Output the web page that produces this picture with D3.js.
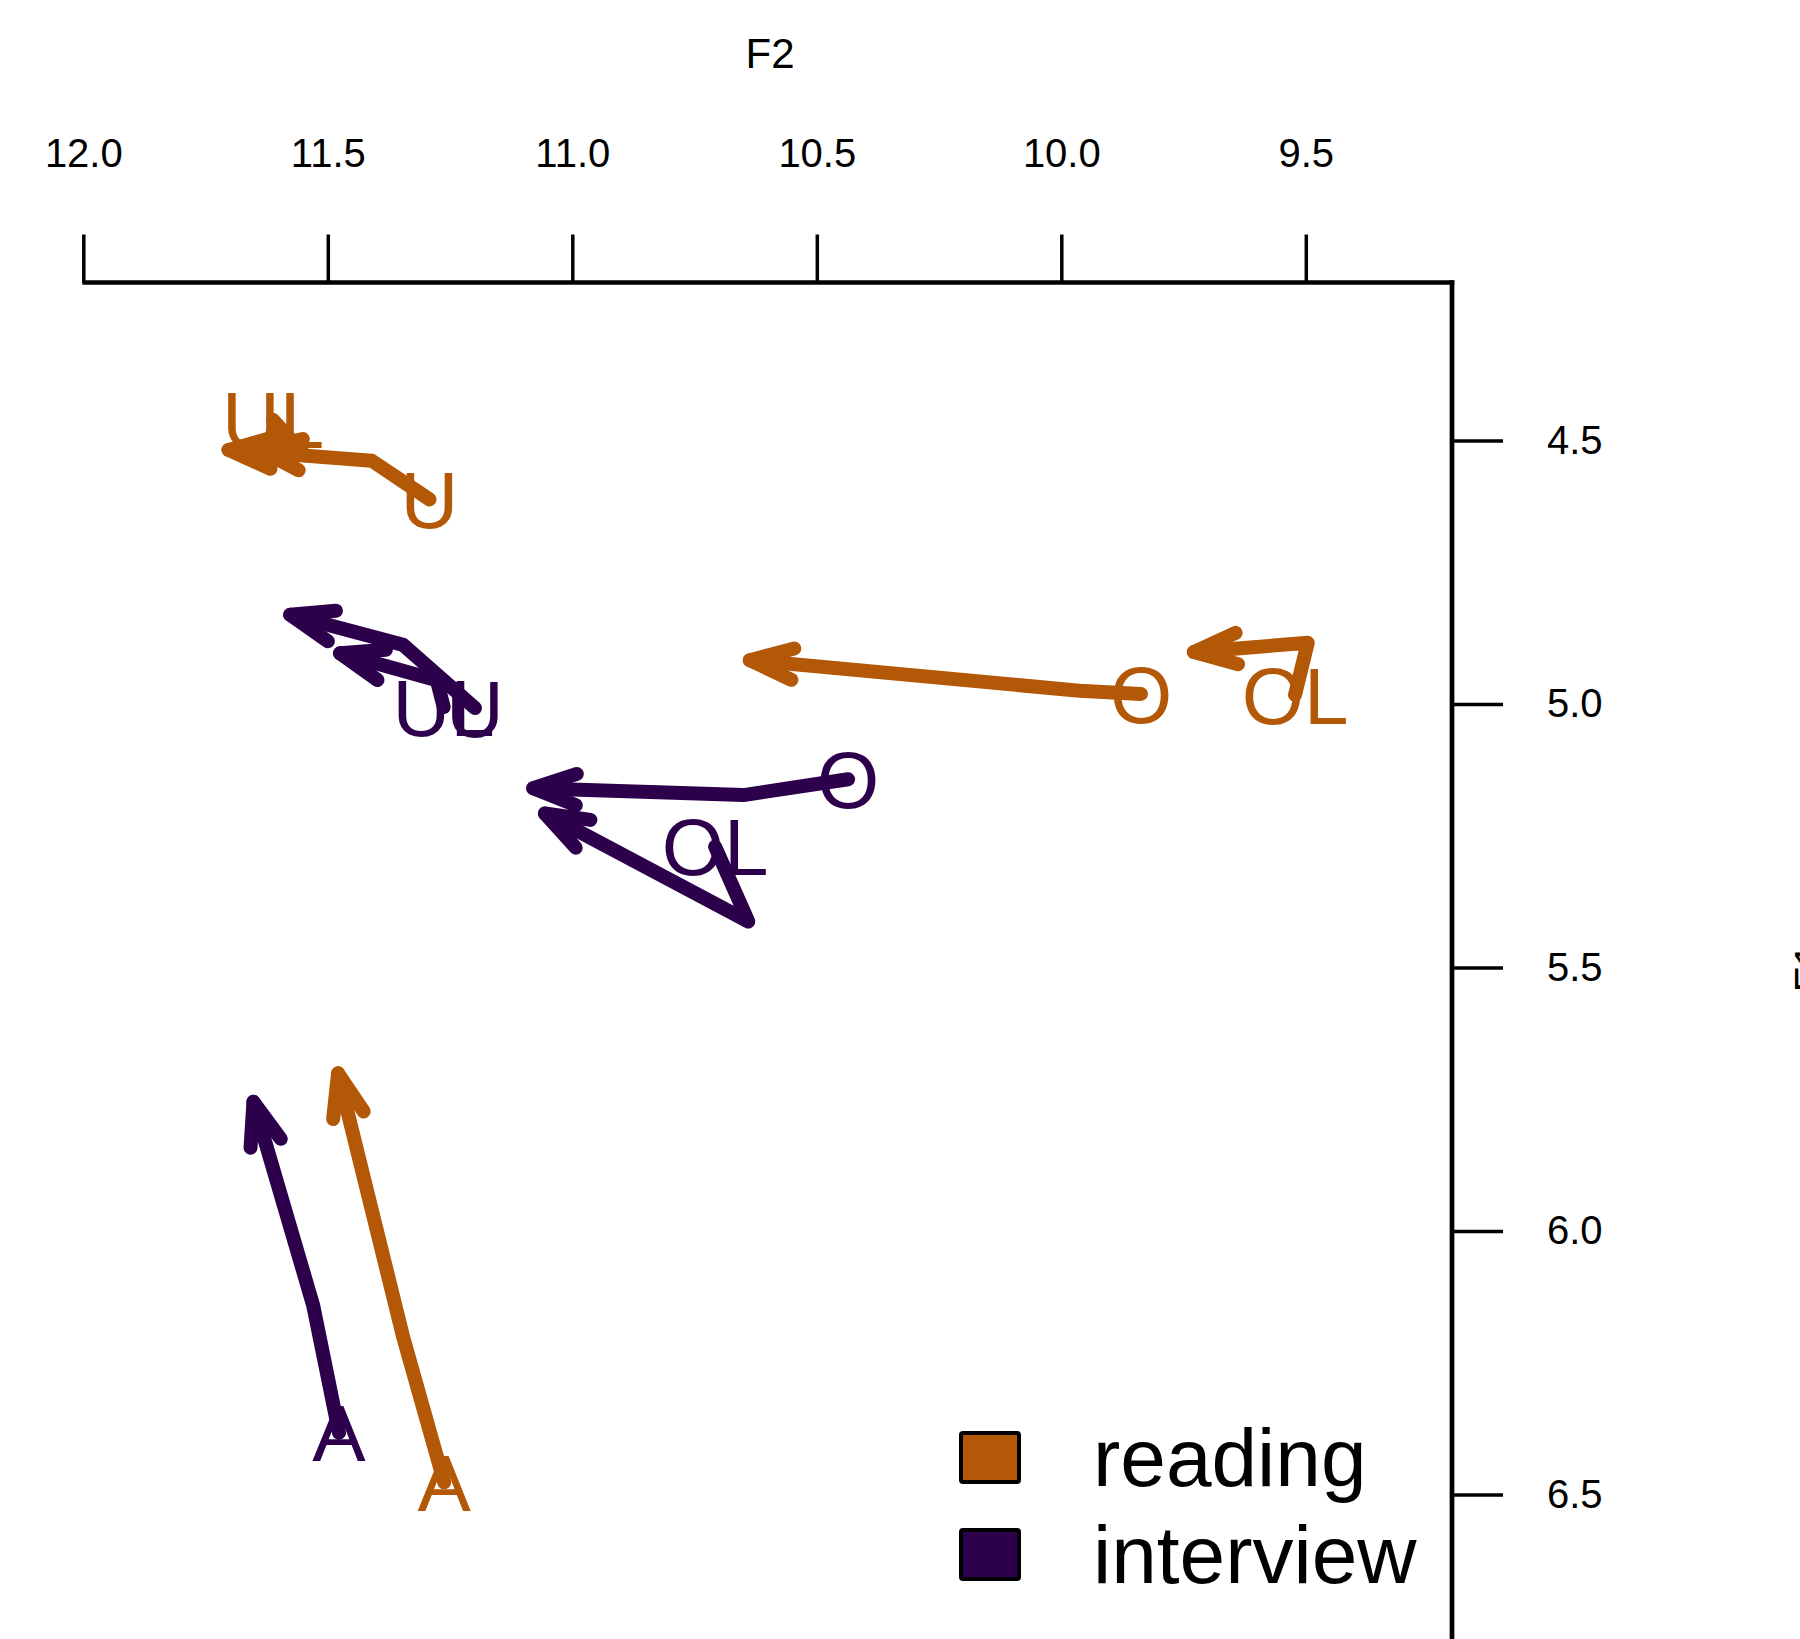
<!DOCTYPE html>
<html><head><meta charset="utf-8">
<script src="https://cdn.jsdelivr.net/npm/d3@7"></script>
<style>
body{margin:0;background:#fff}
svg{display:block}
text{font-family:"Liberation Sans",Arial,Helvetica,sans-serif}
</style>
</head><body>
<svg id="c" width="1800" height="1639"></svg>
<script>
// ---- data ----
const vowels = ["U","UL","O","OL","A"];
const styles = ["reading","interview"];
const styleColors = ["#B35806","#2D004B"];
// trajectory points (start, mid, end) per vowel
const readingF2 = [[11.292,11.410,11.703],[11.612,11.547,11.643],[9.837,9.963,10.637],[9.522,9.496,9.729],[11.262,11.346,11.479]];
const readingF1 = [[4.612,4.5385,4.518],[4.461,4.528,4.516],[4.981,4.975,4.917],[4.983,4.884,4.9015],[6.477,6.201,5.701]];
const interviewF2 = [[11.199,11.346,11.577],[11.263,11.277,11.475],[10.436,10.650,11.080],[10.708,10.640,11.056],[11.477,11.530,11.652]];
const interviewF1 = [[5.008,4.888,4.831],[5.006,4.955,4.904],[5.143,5.173,5.160],[5.271,5.413,5.208],[6.383,6.141,5.755]];
const f2Ticks = [12.0,11.5,11.0,10.5,10.0,9.5];
const f1Ticks = [4.5,5.0,5.5,6.0,6.5];

// ---- scales ----
const x = d3.scaleLinear().domain([12, 9.5]).range([83.3, 1305.8]);
const y = d3.scaleLinear().domain([4.5, 6.5]).range([440.4, 1494.4]);
const axisX = 1452, axisY = 282.5;

const svg = d3.select("#c");

// ---- axes ----
const gTop = svg.append("g").attr("transform", `translate(0,${axisY})`)
  .call(d3.axisTop(x).tickValues(f2Ticks).tickFormat(d3.format(".1f")).tickSize(48).tickPadding(68));
gTop.select(".domain").remove();
gTop.selectAll(".tick line").attr("stroke","#000").attr("stroke-width",3.5);
gTop.selectAll(".tick text").attr("font-size",40).attr("fill","#000")
  .attr("font-family",'"Liberation Sans",Arial,sans-serif');

const gRight = svg.append("g").attr("transform", `translate(${axisX},0)`)
  .call(d3.axisRight(y).tickValues(f1Ticks).tickFormat(d3.format(".1f")).tickSize(51).tickPadding(44));
gRight.select(".domain").remove();
gRight.selectAll(".tick line").attr("stroke","#000").attr("stroke-width",3.5);
gRight.selectAll(".tick text").attr("font-size",40).attr("fill","#000")
  .attr("font-family",'"Liberation Sans",Arial,sans-serif');

svg.append("line").attr("x1", x(12)-1).attr("x2", axisX+2.3).attr("y1", axisY).attr("y2", axisY)
  .attr("stroke","#000").attr("stroke-width",4.7);
svg.append("line").attr("x1", axisX).attr("x2", axisX).attr("y1", axisY-2.3).attr("y2", 1645)
  .attr("stroke","#000").attr("stroke-width",4.7);

svg.append("text").attr("x",770).attr("y",68.3).attr("text-anchor","middle")
  .attr("font-size",42).text("F2");
svg.append("text").attr("transform","translate(1824,968) rotate(-90)").attr("text-anchor","middle")
  .attr("font-size",42).text("F1");

// ---- trajectories ----
function head(p1, p2){
  const ang = Math.atan2(p1[1]-p2[1], p1[0]-p2[0]);
  const a = 20*Math.PI/180, L = 46;
  return [[p2[0]+L*Math.cos(ang+a), p2[1]+L*Math.sin(ang+a)], p2,
          [p2[0]+L*Math.cos(ang-a), p2[1]+L*Math.sin(ang-a)]];
}
const line = d3.line();
const series = [[readingF2, readingF1],[interviewF2, interviewF1]];
series.forEach(([F2s, F1s], si) => {
  const col = styleColors[si];
  const g = svg.append("g");
  vowels.forEach((v, vi) => {
    const pts = F2s[vi].map((f2, k) => [x(f2), y(F1s[vi][k])]);
    g.append("path").attr("d", line(pts)).attr("fill","none").attr("stroke", col)
      .attr("stroke-width",14).attr("stroke-linecap","round").attr("stroke-linejoin","round");
    g.append("path").attr("d", line(head(pts[pts.length-2], pts[pts.length-1]))).attr("fill","none")
      .attr("stroke", col).attr("stroke-width",14).attr("stroke-linecap","round").attr("stroke-linejoin","round");
    g.append("text").attr("x", pts[0][0]).attr("y", pts[0][1]).attr("dy","0.358em")
      .attr("text-anchor","middle").attr("font-size",80).attr("fill", col).text(v);
  });
});

// ---- legend ----
const legY = [1433, 1530];
const legBase = [1486, 1583];
styles.forEach((s, i) => {
  svg.append("rect").attr("x",961).attr("y",legY[i]).attr("width",58).attr("height",49).attr("rx",2)
    .attr("fill", styleColors[i]).attr("stroke","#000").attr("stroke-width",4);
  svg.append("text").attr("x",1093).attr("y",legBase[i]).attr("font-size",82).attr("fill","#000").text(s);
});
</script>
</body></html>
